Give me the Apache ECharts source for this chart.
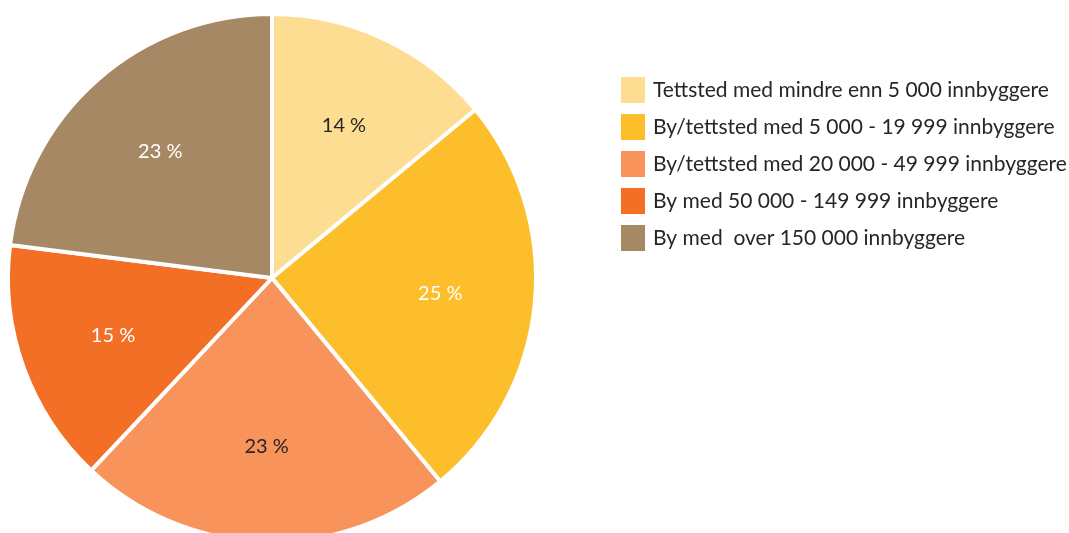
<!DOCTYPE html>
<html>
<head>
<meta charset="utf-8" />
<style>
  html, body, #main { margin: 0; padding: 0; background: #fff; }
  #main { width: 1069px; height: 533px; }
</style>
</head>
<body>
<div id="main"></div>
<script src="https://cdn.jsdelivr.net/npm/echarts@6/dist/echarts.min.js"></script>
<script>
var categories = [
  'Tettsted med mindre enn 5 000 innbyggere',
  'By/tettsted med 5 000 - 19 999 innbyggere',
  'By/tettsted med 20 000 - 49 999 innbyggere',
  'By med 50 000 - 149 999 innbyggere',
  'By med  over 150 000 innbyggere'
];
var shares = [14, 25, 23, 15, 23];
var colors = ['#fddd92', '#fcbe2b', '#f7935b', '#f36f25', '#a78864'];
var labelColors = ['#262626', '#ffffff', '#262626', '#ffffff', '#ffffff'];

var chart = echarts.init(document.getElementById('main'));

var slices = categories.map(function (name, i) {
  return { name: name, value: shares[i], itemStyle: { color: colors[i] } };
});
var labelSlices = categories.map(function (name, i) {
  return { name: name, value: shares[i], label: { color: labelColors[i] } };
});

chart.setOption({
  animation: false,
  color: colors,
  legend: {
    orient: 'vertical',
    left: 619,
    top: 75,
    padding: 0,
    icon: 'rect',
    itemWidth: 26,
    itemHeight: 28,
    itemGap: 7,
    selectedMode: false,
    data: categories,
    textStyle: { fontFamily: 'Lato', fontSize: 21, color: '#262626', padding: [0, 0, 0, 2] }
  },
  series: [
    {
      type: 'pie',
      center: [272, 278],
      radius: [0, 264],
      startAngle: 90,
      clockwise: true,
      silent: true,
      label: { show: false },
      labelLine: { show: false },
      itemStyle: { borderColor: '#fff', borderWidth: 4 },
      data: slices
    },
    {
      // transparent ring only used to place the labels a bit further out
      type: 'pie',
      center: [272, 278],
      radius: [68, 264],
      startAngle: 90,
      clockwise: true,
      silent: true,
      itemStyle: { color: 'rgba(0,0,0,0)' },
      label: {
        show: true,
        position: 'inside',
        fontFamily: 'Lato',
        fontSize: 20,
        formatter: '{c} %'
      },
      labelLine: { show: false },
      data: labelSlices
    }
  ]
});
</script>
</body>
</html>
